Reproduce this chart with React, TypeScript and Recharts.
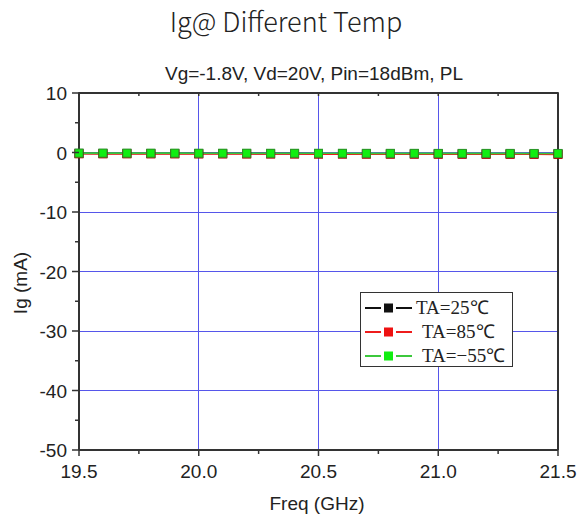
import { LineChart, Line, XAxis, YAxis, CartesianGrid, Legend } from 'recharts';

// Gate current (mA) vs frequency (GHz) at three temperatures
const freqs = [19.5, 19.6, 19.7, 19.8, 19.9, 20.0, 20.1, 20.2, 20.3, 20.4, 20.5, 20.6, 20.7, 20.8, 20.9, 21.0, 21.1, 21.2, 21.3, 21.4, 21.5];
const ig25 = [-0.15, -0.16, -0.16, -0.17, -0.17, -0.18, -0.18, -0.18, -0.19, -0.19, -0.2, -0.2, -0.2, -0.21, -0.21, -0.21, -0.22, -0.22, -0.22, -0.23, -0.23];
const ig85 = [-0.22, -0.23, -0.23, -0.24, -0.24, -0.25, -0.25, -0.26, -0.26, -0.26, -0.27, -0.27, -0.28, -0.28, -0.28, -0.29, -0.29, -0.3, -0.3, -0.3, -0.31];
const igM55 = [-0.1, -0.1, -0.11, -0.11, -0.11, -0.12, -0.12, -0.12, -0.13, -0.13, -0.13, -0.13, -0.14, -0.14, -0.14, -0.15, -0.15, -0.15, -0.15, -0.16, -0.16];

const xTicks = [19.5, 19.75, 20, 20.25, 20.5, 20.75, 21, 21.25, 21.5];
const xMajor = [19.5, 20, 20.5, 21, 21.5];
const yTicks = [10, 5, 0, -5, -10, -15, -20, -25, -30, -35, -40, -45, -50];
const yMajor = [10, 0, -10, -20, -30, -40, -50];
const xGrid = [20, 20.5, 21];
const yGrid = [0, -10, -20, -30, -40];

const series = [
  { key: 'ta25', name: 'TA=25℃', line: '#111111', fill: '#111111', edge: '#000000' },
  { key: 'ta85', name: 'TA=85℃', line: '#ee1c1c', fill: '#ee1111', edge: '#b00000' },
  { key: 'taM55', name: 'TA=−55℃', line: '#3cc83c', fill: '#11ee11', edge: '#2a9a2a' },
];

const data = freqs.map((freq, i) => ({ freq, ta25: ig25[i], ta85: ig85[i], taM55: igM55[i] }));

const AXIS = '#333333';
const GRID = '#5656ea';
const SANS = '"Liberation Sans", Arial, sans-serif';

const squareDot = (fill: string, edge: string) => (props: any) => {
  const { cx, cy, index } = props;
  if (cx == null || cy == null) return <g key={index} />;
  return <rect key={index} x={cx - 4} y={cy - 4} width={8} height={8} fill={fill} stroke={edge} strokeWidth={1} />;
};

const BottomTick = ({ x, y, payload }: any) => {
  const major = xMajor.includes(payload.value);
  return (
    <g>
      <line x1={x} x2={x} y1={y} y2={y + (major ? 6 : 4)} stroke={AXIS} strokeWidth={1.5} />
      {major && (
        <text x={x} y={y + 28} textAnchor="middle" fontFamily={SANS} fontSize={19} fill="#222">
          {payload.value.toFixed(1)}
        </text>
      )}
    </g>
  );
};

const LeftTick = ({ x, y, payload }: any) => {
  const major = yMajor.includes(payload.value);
  return (
    <g>
      <line x1={x - (major ? 7 : 4)} x2={x} y1={y} y2={y} stroke={AXIS} strokeWidth={1.5} />
      {major && (
        <text x={x - 12} y={y + 7} textAnchor="end" fontFamily={SANS} fontSize={19} fill="#222">
          {payload.value}
        </text>
      )}
    </g>
  );
};

const TopTick = ({ x, y }: any) => <line x1={x} x2={x} y1={y - 1} y2={y + 3} stroke={AXIS} strokeWidth={1.5} />;
const RightTick = ({ x, y }: any) => <line x1={x - 3} x2={x + 1} y1={y} y2={y} stroke={AXIS} strokeWidth={1.5} />;

const LegendBox = () => (
  <div
    style={{
      width: 153,
      height: 75,
      boxSizing: 'border-box',
      border: `1.5px solid ${AXIS}`,
      background: '#fff',
      paddingTop: 3,
      fontFamily: '"Liberation Serif", "Times New Roman", serif',
      fontSize: 19,
      color: '#222',
    }}
  >
    {series.map((s, i) => (
      <div key={s.key} style={{ display: 'flex', alignItems: 'center', height: 24 }}>
        <svg width={52} height={24} style={{ flex: 'none' }}>
          <line x1={4} x2={20} y1={12} y2={12} stroke={s.line} strokeWidth={2} />
          <rect x={23} y={7.5} width={9} height={9} fill={s.fill} />
          <line x1={35} x2={51} y1={12} y2={12} stroke={s.line} strokeWidth={2} />
        </svg>
        <span style={{ marginLeft: i === 0 ? 3 : 9, whiteSpace: 'nowrap', lineHeight: '24px' }}>{s.name}</span>
      </div>
    ))}
  </div>
);

export default function App() {
  return (
    <div style={{ position: 'absolute', left: 0, top: 0, width: 581, height: 520, background: '#fff' }}>
      <LineChart width={581} height={520} data={data} margin={{ top: 83, right: 13, bottom: 40, left: 19 }}>
        <CartesianGrid
          horizontalValues={yGrid}
          verticalValues={xGrid}
          stroke={GRID}
          strokeWidth={1}
          shapeRendering="crispEdges"
        />
        <XAxis
          dataKey="freq"
          type="number"
          domain={[19.5, 21.5]}
          ticks={xTicks}
          interval={0}
          height={30}
          tickSize={0}
          tickMargin={0}
          tickLine={false}
          tick={<BottomTick />}
          axisLine={{ stroke: AXIS, strokeWidth: 2 }}
        />
        <XAxis
          xAxisId="top"
          orientation="top"
          dataKey="freq"
          type="number"
          domain={[19.5, 21.5]}
          ticks={xTicks}
          interval={0}
          height={10}
          tickSize={0}
          tickMargin={0}
          tickLine={false}
          tick={<TopTick />}
          axisLine={{ stroke: AXIS, strokeWidth: 2 }}
        />
        <YAxis
          type="number"
          domain={[-50, 10]}
          ticks={yTicks}
          interval={0}
          width={60}
          tickSize={0}
          tickMargin={0}
          tickLine={false}
          tick={<LeftTick />}
          axisLine={{ stroke: AXIS, strokeWidth: 2 }}
        />
        <YAxis
          yAxisId="right"
          orientation="right"
          type="number"
          domain={[-50, 10]}
          ticks={yTicks}
          interval={0}
          width={10}
          tickSize={0}
          tickMargin={0}
          tickLine={false}
          tick={<RightTick />}
          axisLine={{ stroke: AXIS, strokeWidth: 2 }}
        />
        {series.map((s) => (
          <Line
            key={s.key}
            dataKey={s.key}
            name={s.name}
            type="linear"
            stroke={s.line}
            strokeWidth={1.6}
            dot={squareDot(s.fill, s.edge)}
            activeDot={false}
            isAnimationActive={false}
          />
        ))}
        <Legend
          layout="vertical"
          align="center"
          verticalAlign="middle"
          content={<LegendBox />}
          wrapperStyle={{ left: 360, top: 292, width: 153, height: 75 }}
        />
      </LineChart>
      <svg width={581} height={520} style={{ position: 'absolute', left: 0, top: 0, pointerEvents: 'none' }}>
        <text x={286} y={32} textAnchor="middle" fontFamily='"Noto Sans CJK SC", "Noto Sans", sans-serif' fontWeight={300} fontSize={27} fill="#222">
          Ig@ Different Temp
        </text>
        <text x={314} y={80} textAnchor="middle" fontFamily={SANS} fontSize={19} fill="#222">
          Vg=-1.8V, Vd=20V, Pin=18dBm, PL
        </text>
        <text x={317} y={510} textAnchor="middle" fontFamily={SANS} fontSize={19} fill="#222">
          Freq (GHz)
        </text>
        <text x={27} y={283} textAnchor="middle" fontFamily={SANS} fontSize={19} fill="#222" transform="rotate(-90 27 283)">
          Ig (mA)
        </text>
      </svg>
    </div>
  );
}
